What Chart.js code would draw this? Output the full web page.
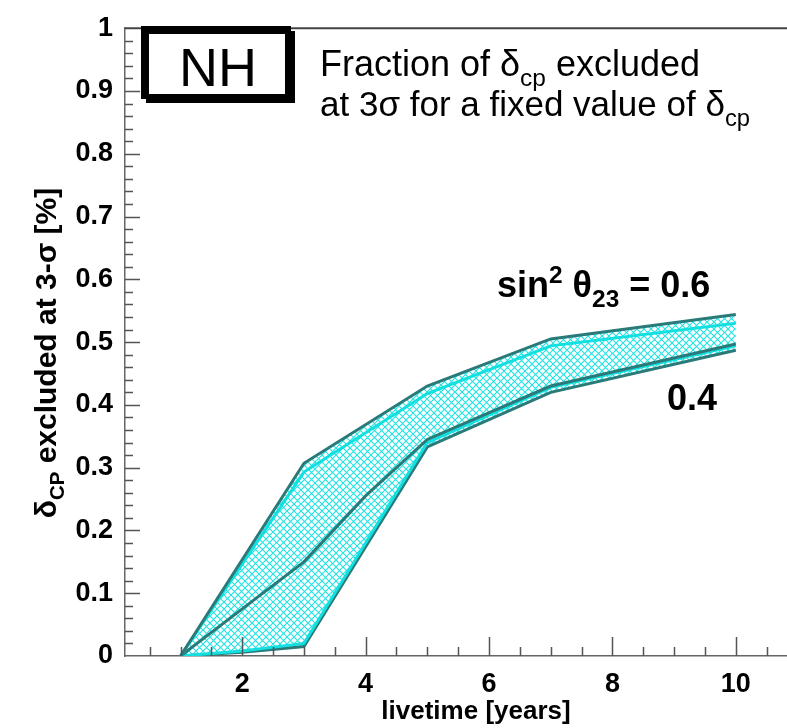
<!DOCTYPE html>
<html>
<head>
<meta charset="utf-8">
<script src="https://cdn.jsdelivr.net/npm/chart.js@4.4.1/dist/chart.umd.min.js"></script>
<style>
  html, body { margin: 0; padding: 0; background: #fff; }
  #wrap { width: 787px; height: 728px; }
</style>
</head>
<body>
<div id="wrap"><canvas id="c" width="787" height="728"></canvas></div>
<script>
// livetime nodes [years]
const years = [1, 3, 5, 7, 10];
const yearsLow = [1, 2, 3, 5, 7, 10];
const yearsMid = [1, 2, 3, 4, 5, 7, 10];

// fraction of dCP excluded at 3 sigma
const upper60 = [0, 0.307, 0.43, 0.505, 0.544];        // sin2 th23 = 0.6 edge
const upper60Inner = [0, 0.293, 0.418, 0.494, 0.53];
const middle = [0, 0.075, 0.15, 0.255, 0.345, 0.43, 0.497];
const lower40Inner = [0, 0.008, 0.02, 0.34, 0.428, 0.494];
const lower40 = [0, 0.006, 0.015, 0.333, 0.42, 0.487]; // sin2 th23 = 0.4 edge

// tick labels
const xTickLabels = [2, 4, 6, 8, 10];
const yTickLabels = [0, 0.1, 0.2, 0.3, 0.4, 0.5, 0.6, 0.7, 0.8, 0.9, 1];

const dark = '#2a7a7a';
const cyan = '#12e0e0';
const FONT = '"Liberation Sans", Arial, sans-serif';

const canvas = document.getElementById('c');
const ctx0 = canvas.getContext('2d');

// cross hatch fill like ROOT fill style
function hatch() {
    const c = document.createElement('canvas');
    c.width = 7; c.height = 7;
    const g = c.getContext('2d');
    g.strokeStyle = '#22e2e2';
    g.lineWidth = 1.1;
    g.beginPath();
    g.moveTo(-1, -1); g.lineTo(8, 8);
    g.moveTo(8, -1); g.lineTo(-1, 8);
    g.stroke();
    return ctx0.createPattern(c, 'repeat');
}

function pts(xs, ys) {
    return xs.map((x, i) => ({x: x, y: ys[i]}));
}

// text with sub/superscripts, runs = [[text, mode], ...]
function drawRich(ctx, runs, x, y, size, weight, align) {
    const f = s => weight + ' ' + s + 'px ' + FONT;
    let w = 0;
    runs.forEach(r => {
        ctx.font = f(r[1] ? size * 0.68 : size);
        w += ctx.measureText(r[0]).width;
    });
    let cx = align === 'center' ? x - w / 2 : (align === 'right' ? x - w : x);
    ctx.textAlign = 'left';
    ctx.textBaseline = 'alphabetic';
    runs.forEach(r => {
        const s = r[1] ? size * 0.68 : size;
        ctx.font = f(s);
        let dy = 0;
        if (r[1] === 'sub') dy = size * 0.28;
        if (r[1] === 'sup') dy = -size * 0.38;
        ctx.fillText(r[0], cx, y + dy);
        cx += ctx.measureText(r[0]).width;
    });
}

const decor = {
    id: 'decor',
    afterDraw(chart) {
        const {ctx, chartArea: a, scales: {x, y}} = chart;
        ctx.save();
        // frame top
        ctx.strokeStyle = '#444';
        ctx.lineWidth = 2;
        ctx.beginPath();
        ctx.moveTo(a.left, a.top);
        ctx.lineTo(a.right, a.top);
        ctx.stroke();
        // inward ticks
        ctx.strokeStyle = '#555';
        ctx.lineWidth = 1.5;
        ctx.beginPath();
        for (let i = 1; i <= 21; i++) {
            const px = Math.round(x.getPixelForValue(i * 0.5)) + 0.5;
            const len = (i % 4 === 0) ? 19 : 9;
            ctx.moveTo(px, a.bottom);
            ctx.lineTo(px, a.bottom - len);
        }
        for (let i = 1; i < 50; i++) {
            const py = Math.round(y.getPixelForValue(i * 0.02)) + 0.5;
            const len = (i % 5 === 0) ? 15 : 8;
            ctx.moveTo(a.left, py);
            ctx.lineTo(a.left + len, py);
        }
        ctx.stroke();

        ctx.fillStyle = '#000';
        // y title
        ctx.save();
        ctx.translate(56, 353);
        ctx.rotate(-Math.PI / 2);
        drawRich(ctx, [['\u03b4', ''], ['CP', 'sub'], [' excluded at 3-\u03c3 [%]', '']], 0, 0, 30, 'bold', 'center');
        ctx.restore();
        // x title
        drawRich(ctx, [['livetime [years]', '']], 476, 719, 26, 'bold', 'center');

        // NH box
        ctx.fillStyle = '#000';
        ctx.fillRect(146, 31, 149, 72);
        ctx.fillStyle = '#fff';
        ctx.fillRect(149, 34, 136, 60);
        ctx.lineWidth = 5;
        ctx.strokeStyle = '#000';
        ctx.strokeRect(143.5, 28.5, 145, 68);
        ctx.fillStyle = '#000';
        drawRich(ctx, [['NH', '']], 218, 86, 54, 'normal', 'center');

        drawRich(ctx, [['Fraction of \u03b4', ''], ['cp', 'sub'], [' excluded', '']], 320, 76, 36, 'normal', 'left');
        drawRich(ctx, [['at 3\u03c3 for a fixed value of \u03b4', ''], ['cp', 'sub']], 320, 116, 35, 'normal', 'left');

        drawRich(ctx, [['sin', ''], ['2', 'sup'], [' \u03b8', ''], ['23', 'sub'], [' = 0.6', '']], 497, 297, 36, 'bold', 'left');
        drawRich(ctx, [['0.4', '']], 667, 410, 36, 'bold', 'left');
        ctx.restore();
    }
};

const line = (data, color, width, extra) => Object.assign({
    data: data,
    borderColor: color,
    borderWidth: width,
    pointRadius: 0,
    tension: 0,
    fill: false
}, extra || {});

new Chart(canvas, {
    type: 'line',
    data: {
        datasets: [
            line(pts(years, upper60), dark, 3, {fill: 4, backgroundColor: hatch()}),
            line(pts(years, upper60Inner), cyan, 3),
            line(pts(yearsMid, middle), dark, 3),
            line(pts(yearsLow, lower40Inner), cyan, 3),
            line(pts(yearsLow, lower40), dark, 3)
        ]
    },
    options: {
        responsive: false,
        animation: false,
        layout: {padding: {top: 16, right: 0, left: 0, bottom: 0}},
        plugins: {
            legend: {display: false},
            tooltip: {enabled: false},
            filler: {drawTime: 'beforeDatasetsDraw'}
        },
        scales: {
            x: {
                type: 'linear',
                min: 0.1,
                max: 10.83,
                afterBuildTicks: s => { s.ticks = xTickLabels.map(v => ({value: v})); },
                afterFit: s => { s.height = 72; },
                grid: {display: false, drawTicks: false},
                border: {display: true, color: '#666', width: 1.5},
                ticks: {
                    color: '#000',
                    padding: 12,
                    maxRotation: 0,
                    font: {family: FONT, size: 27, weight: 'bold'}
                }
            },
            y: {
                type: 'linear',
                min: 0,
                max: 1,
                afterBuildTicks: s => { s.ticks = yTickLabels.map(v => ({value: v})); },
                afterFit: s => { s.width = 125; },
                grid: {display: false, drawTicks: false},
                border: {display: true, color: '#666', width: 1.5},
                ticks: {
                    color: '#000',
                    padding: 12,
                    font: {family: FONT, size: 27, weight: 'bold'},
                    callback: v => (v === 0 || v === 1) ? String(v) : v.toFixed(1)
                }
            }
        }
    },
    plugins: [decor]
});
</script>
</body>
</html>
